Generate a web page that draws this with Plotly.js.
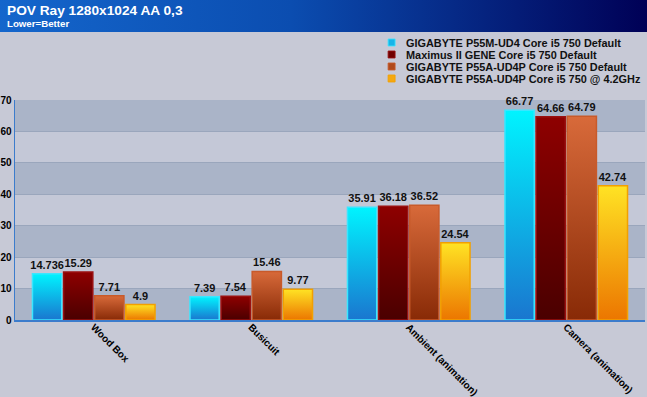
<!DOCTYPE html>
<html><head><meta charset="utf-8">
<script src="https://cdn.plot.ly/plotly-3.0.1.min.js"></script>
<style>
html,body{margin:0;padding:0;}
body{width:647px;height:397px;background:linear-gradient(to right,#1466cc 0%,#0b4db0 45%,#000056 100%) top left/100% 32px no-repeat,#c7c9d6;}
#chart{width:647px;height:397px;}
</style></head>
<body><div id="chart"></div>
<script>
const categories = ["Wood Box", "Busicuit", "Ambient (animation)", "Camera (animation)"];
const seriesNames = [
  "GIGABYTE P55M-UD4 Core i5 750 Default",
  "Maximus II GENE Core i5 750 Default",
  "GIGABYTE P55A-UD4P Core i5 750 Default",
  "GIGABYTE P55A-UD4P Core i5 750 @ 4.2GHz"
];
const p55mUd4 = [14.736, 7.39, 35.91, 66.77];
const maximusGene = [15.29, 7.54, 36.18, 64.66];
const p55aUd4p = [7.71, 15.46, 36.52, 64.79];
const p55aUd4pOC = [4.9, 9.77, 24.54, 42.74];
const yTicks = [0, 10, 20, 30, 40, 50, 60, 70];

const series = [p55mUd4, maximusGene, p55aUd4p, p55aUd4pOC];
const fillMid = ["#17b4e8", "#700000", "#b04a1c", "#f5a810"];
const lineCol = ["#3ae6ff", "#9a1010", "#c85a2a", "#f2a000"];
const grads = [["#00f4ff", "#1a76cf"], ["#8e0000", "#4a0000"], ["#d86a3a", "#882a06"], ["#ffe324", "#ec7600"]];
const legendIds = ["legend", "legend2", "legend3", "legend4"];

const traces = series.map((vals, i) => ({
  type: "bar",
  name: seriesNames[i],
  legend: legendIds[i],
  x: categories,
  y: vals,
  text: vals.map(v => String(v)),
  textposition: "outside",
  constraintext: "none",
  cliponaxis: false,
  textfont: {family: "Arial, Liberation Sans, sans-serif", size: 11, color: "#111", weight: "bold"},
  marker: {color: fillMid[i], line: {color: lineCol[i], width: 1.5}},
  hoverinfo: "skip"
}));

const shapes = [];
for (let k = 0; k < yTicks.length - 1; k++) {
  shapes.push({type: "rect", xref: "paper", yref: "y", x0: 0, x1: 1,
    y0: yTicks[k], y1: yTicks[k + 1], layer: "below", line: {width: 0},
    fillcolor: (k % 2 === 0) ? "#aab4c8" : "#c4c8d7"});
}

const layout = {
  width: 647, height: 397,
  paper_bgcolor: "rgba(0,0,0,0)",
  plot_bgcolor: "#c4c8d7",
  margin: {l: 15, r: 2, t: 100, b: 77, autoexpand: false},
  barmode: "group", bargap: 0.21, bargroupgap: 0.06,
  font: {family: "Arial, Liberation Sans, sans-serif", size: 10, color: "#000"},
  showlegend: true,
  xaxis: {showgrid: false, showline: true, linecolor: "#3c7ccc", linewidth: 1.5,
    tickangle: 45, ticks: "", ticklabelstandoff: -4,
    tickfont: {size: 10, weight: "bold", color: "#000"}, fixedrange: true},
  yaxis: {range: [0, 70], tickvals: yTicks, showgrid: true, gridcolor: "#9aa6bc", gridwidth: 1,
    zeroline: false, showline: true, linecolor: "#3c7ccc", linewidth: 1.5,
    ticks: "", ticklabelstandoff: 0,
    tickfont: {size: 10, weight: "bold", color: "#000"}, fixedrange: true},
  shapes: shapes,
  annotations: [
    {xref: "paper", yref: "paper", x: -0.016, y: (320 - 10.5) / 220, xanchor: "left", yanchor: "middle",
      text: "POV Ray 1280x1024 AA 0,3", showarrow: false,
      font: {size: 13.7, weight: "bold", color: "#ffffff"}},
    {xref: "paper", yref: "paper", x: -0.016, y: (320 - 23.5) / 220, xanchor: "left", yanchor: "middle",
      text: "Lower=Better", showarrow: false,
      font: {size: 9.7, weight: "bold", color: "#ffffff"}}
  ]
};
legendIds.forEach((id, i) => {
  layout[id] = {x: (366 - 15) / 630, xanchor: "left", y: (320 - (42.5 + 12 * i)) / 220, yanchor: "middle",
    bgcolor: "rgba(0,0,0,0)", borderwidth: 0, itemwidth: 30,
    font: {size: 10.9, weight: "bold", color: "#111"}};
});

function applyGradients(gd) {
  const svg = gd.querySelector("svg.main-svg");
  if (!svg) return;
  let defs = svg.querySelector("defs");
  if (!defs) { defs = document.createElementNS("http://www.w3.org/2000/svg", "defs"); svg.insertBefore(defs, svg.firstChild); }
  grads.forEach((g, i) => {
    if (!svg.querySelector("#bargrad" + i)) {
      const lg = document.createElementNS("http://www.w3.org/2000/svg", "linearGradient");
      lg.setAttribute("id", "bargrad" + i);
      lg.setAttribute("x1", "0"); lg.setAttribute("y1", "0");
      lg.setAttribute("x2", "0"); lg.setAttribute("y2", "1");
      [[0, g[0]], [1, g[1]]].forEach(([o, c]) => {
        const s = document.createElementNS("http://www.w3.org/2000/svg", "stop");
        s.setAttribute("offset", o); s.setAttribute("stop-color", c);
        lg.appendChild(s);
      });
      defs.appendChild(lg);
    }
  });
  gd.querySelectorAll(".barlayer .trace").forEach((tr, i) => {
    tr.querySelectorAll(".point path").forEach(p => { p.style.fill = "url(#bargrad" + i + ")"; });
  });
  gd.querySelectorAll(".legendpoints").forEach(lp => {
    lp.setAttribute("transform", "translate(14,0) scale(0.58)");
  });
}

const gd = document.getElementById("chart");
Plotly.newPlot(gd, traces, layout, {displayModeBar: false, staticPlot: true}).then(() => {
  applyGradients(gd);
  gd.on && gd.on("plotly_afterplot", () => applyGradients(gd));
});
</script></body></html>
